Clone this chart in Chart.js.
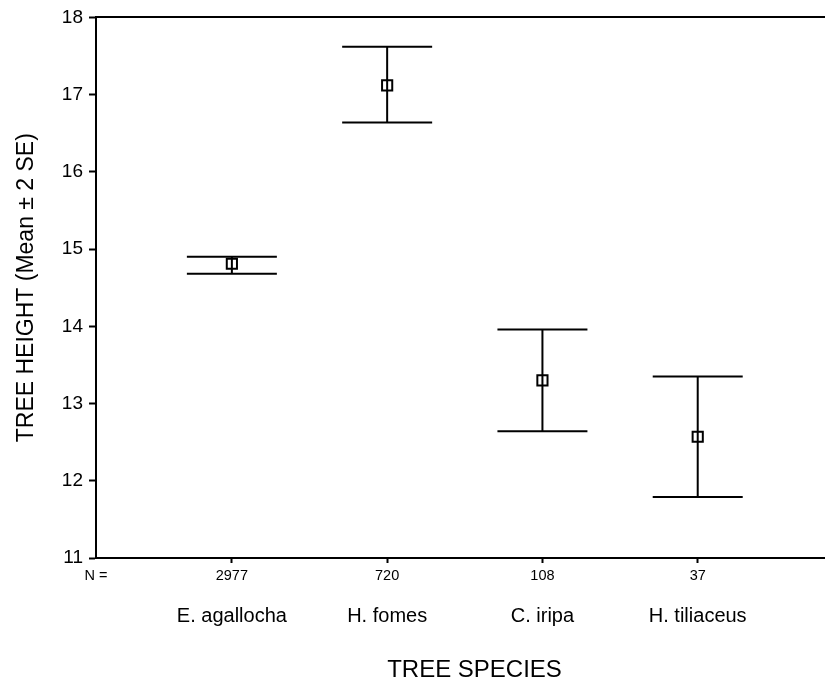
<!DOCTYPE html>
<html>
<head>
<meta charset="utf-8">
<script src="https://cdn.jsdelivr.net/npm/chart.js@4"></script>
<style>
  body { margin: 0; background: #fff; overflow: hidden; }
</style>
</head>
<body>
<!-- the plot frame runs a bit past the right edge of the 825px picture -->
<canvas id="arvores" width="853" height="688"></canvas>
<script>
const species = ['E. agallocha', 'H. fomes', 'C. iripa', 'H. tiliaceus'];
const counts = [2977, 720, 108, 37];
const positions = [1, 2, 3, 4];
const means = [14.81, 17.12, 13.30, 12.57];
const upper = [14.90, 17.62, 13.96, 13.35];
const lower = [14.68, 16.64, 12.64, 11.79];
const yTicks = [11, 12, 13, 14, 15, 16, 17, 18];

const X_MIN = 0.125, X_MAX = 5;
Chart.defaults.font.family = "'Liberation Sans', Arial, sans-serif";
Chart.defaults.color = '#000';

// whiskers for mean +- 2 SE
const errorBars = {
    id: 'errorBars',
    afterDatasetsDraw(chart) {
        const ctx = chart.ctx;
        const sx = chart.scales.x, sy = chart.scales.y;
        ctx.save();
        ctx.strokeStyle = '#000';
        ctx.lineWidth = 2;
        positions.forEach((p, i) => {
            const px = sx.getPixelForValue(p);
            const top = sy.getPixelForValue(upper[i]);
            const bot = sy.getPixelForValue(lower[i]);
            ctx.beginPath();
            ctx.moveTo(px, top); ctx.lineTo(px, bot);
            ctx.moveTo(px - 45, top); ctx.lineTo(px + 45, top);
            ctx.moveTo(px - 45, bot); ctx.lineTo(px + 45, bot);
            ctx.stroke();
        });
        ctx.restore();
    }
};

new Chart(document.getElementById('arvores'), {
    type: 'scatter',
    data: {
        datasets: [{
            data: positions.map((p, i) => ({ x: p, y: means[i] })),
            pointStyle: 'rect',
            pointRadius: 7.2,
            pointHoverRadius: 7.2,
            pointBorderWidth: 2,
            pointBorderColor: '#000',
            pointBackgroundColor: 'rgba(0,0,0,0)'
        }]
    },
    options: {
        responsive: false,
        animation: false,
        devicePixelRatio: 1,
        layout: { autoPadding: false, padding: { top: 16, left: 0, right: 0, bottom: 0 } },
        plugins: { legend: { display: false }, tooltip: { enabled: false } },
        scales: {
            x: {
                type: 'linear', position: 'bottom', weight: 0,
                min: X_MIN, max: X_MAX,
                afterBuildTicks: s => { s.ticks = [X_MIN].concat(positions).map(v => ({ value: v })); },
                afterFit: s => { s.height = 30; },
                ticks: {
                    autoSkip: false, maxRotation: 0, padding: 4,
                    font: { size: 14.5 },
                    callback: v => v === X_MIN ? 'N =' : counts[positions.indexOf(v)]
                },
                grid: {
                    drawOnChartArea: false, tickLength: 5, tickWidth: 2,
                    tickColor: c => c.index === 0 ? 'rgba(0,0,0,0)' : '#000'
                },
                border: { color: '#000', width: 2 }
            },
            names: {
                type: 'linear', position: 'bottom', weight: 1,
                min: X_MIN, max: X_MAX,
                afterBuildTicks: s => { s.ticks = positions.map(v => ({ value: v })); },
                afterFit: s => { s.height = 100; },
                ticks: {
                    autoSkip: false, maxRotation: 0, padding: 8,
                    font: { size: 20 },
                    callback: v => species[positions.indexOf(v)]
                },
                grid: { display: false },
                border: { display: false },
                title: { display: true, text: 'TREE SPECIES', font: { size: 24 }, padding: { bottom: 3 } }
            },
            frame: {
                type: 'linear', position: 'top',
                min: X_MIN, max: X_MAX,
                afterBuildTicks: s => { s.ticks = []; },
                afterFit: s => { s.height = 0; },
                ticks: { display: false },
                grid: { display: false },
                border: { color: '#000', width: 2 }
            },
            y: {
                min: 11, max: 18,
                afterBuildTicks: s => { s.ticks = yTicks.map(v => ({ value: v })); },
                afterFit: s => { s.width = 96; },
                ticks: { font: { size: 19 }, padding: 6 },
                grid: { drawOnChartArea: false, tickLength: 7, tickWidth: 2, tickColor: '#000' },
                border: { color: '#000', width: 2 },
                title: { display: true, text: 'TREE HEIGHT (Mean ± 2 SE)', font: { size: 23 }, padding: { top: 13 } }
            }
        }
    },
    plugins: [errorBars]
});
</script>
</body>
</html>
